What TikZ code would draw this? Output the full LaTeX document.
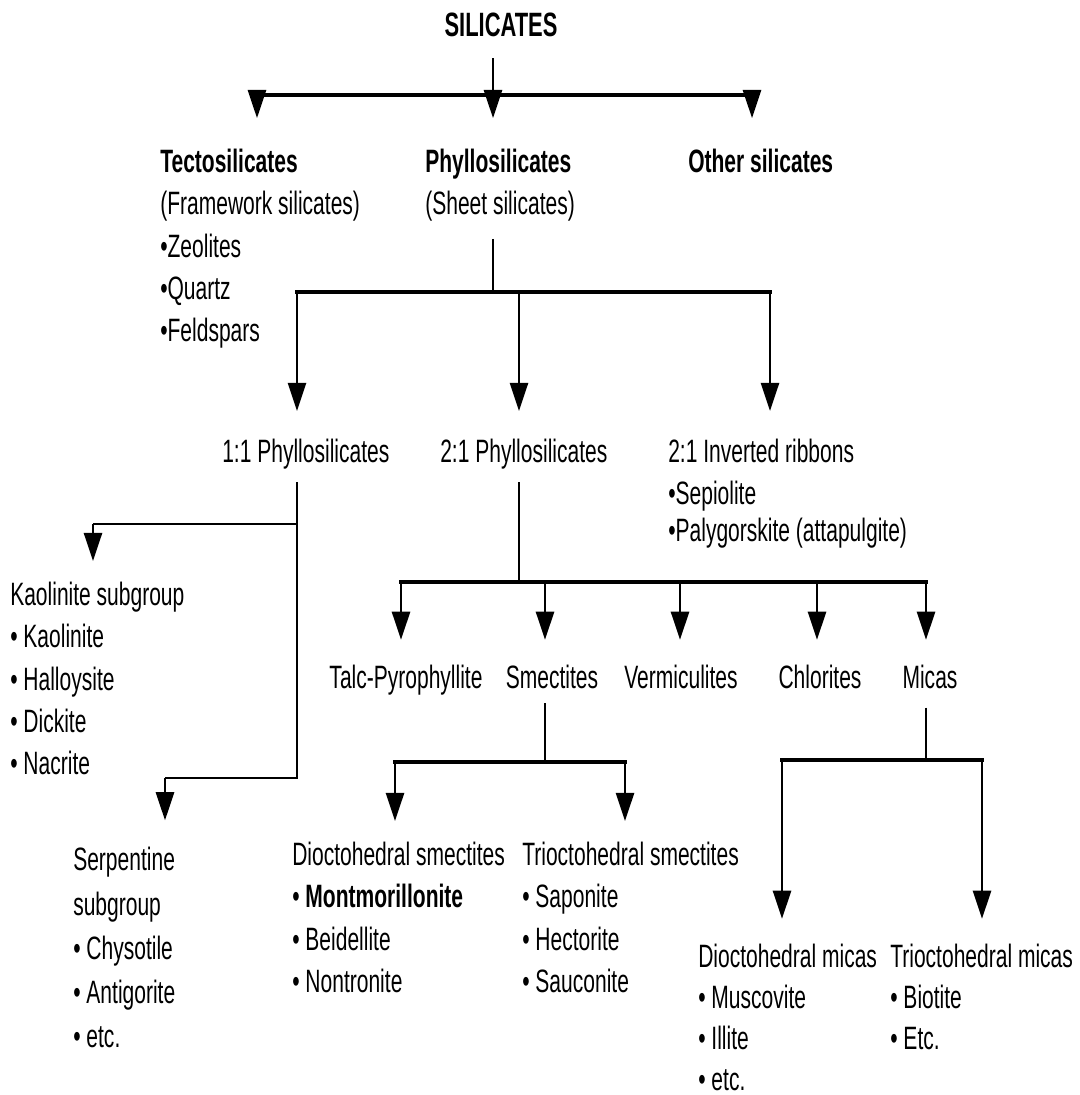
\documentclass[tikz,border=0pt]{standalone}
\usepackage{fontspec}
\setmainfont[FakeStretch=0.65]{Liberation Sans}
\usetikzlibrary{arrows.meta}
\tikzset{lbl/.style={font=\fontsize{23}{30}\selectfont, inner sep=0pt, anchor=north west, align=left},
 head/.style={font=\fontsize{24}{30}\selectfont\bfseries, inner sep=0pt},
 stem/.style={line width=1.4pt},
 bar/.style={line width=2.6pt, line cap=rect},
 arr/.style={line width=1.4pt, -{Triangle[width=13pt,length=20pt]}, shorten >=#1},
 arr/.default=18pt,
 }

\begin{document}
\begin{tikzpicture}[x=0.025cm,y=-0.025cm]
\useasboundingbox (0,0) rectangle (1079,1095);
\node[head] (sil) at (501,25) {SILICATES};
\node[lbl] (tecto) at (160,149) {\textbf{Tectosilicates}\\(Framework silicates)\\•Zeolites\\•Quartz\\•Feldspars};
\node[lbl] (phyllo) at (425,149) {\textbf{Phyllosilicates}\\(Sheet silicates)};
\node[lbl] (other) at (688,149) {\textbf{Other silicates}};
\coordinate (j0) at (493,95);
\coordinate (j0l) at (257,95);
\coordinate (j0r) at (752,95);
\draw[stem, shorten <=15pt] (sil.south -| j0) -- (j0);
\draw[bar] (j0l) -- (j0r);
\draw[arr=22pt] (j0l) -- (j0l |- tecto.north);
\draw[arr=22pt] (j0) -- (j0 |- phyllo.north);
\draw[arr=22pt] (j0r) -- (j0r |- other.north);

\node[lbl] (one1) at (222,439) {1:1 Phyllosilicates};
\node[lbl] (two1) at (440,439) {2:1 Phyllosilicates};
\node[lbl] (ribb) at (668,439) {2:1 Inverted ribbons\\•Sepiolite\\[-4pt]•Palygorskite (attapulgite)};
\coordinate (j1) at (493,292);
\coordinate (j1l) at (297,292);
\coordinate (j1m) at (519,292);
\coordinate (j1r) at (770,292);
\draw[stem, shorten <=12pt] (phyllo.south -| j1) -- (j1);
\draw[bar] (j1l) -- (j1r);
\foreach \c/\n in {j1l/one1, j1m/two1, j1r/ribb}
  \draw[arr=20pt] (\c) -- (\c |- \n.north);

\node[lbl] (kaol) at (10,582) {Kaolinite subgroup\\• Kaolinite\\• Halloysite\\• Dickite\\• Nacrite};
\node[lbl, font=\fontsize{23}{31.5}\selectfont] (serp) at (73,847) {Serpentine\\subgroup\\• Chysotile\\• Antigorite\\• etc.};
\coordinate (k0) at (297,524);
\coordinate (k1) at (93,524);
\coordinate (s0) at (297,778);
\coordinate (s1) at (165,778);
\draw[stem, shorten <=9pt] (one1.south -| k0) -- (s0) -- (s1);
\draw[stem] (k0) -- (k1);
\draw[arr=15pt] (k1) -- (k1 |- kaol.north);
\draw[arr=19pt] (s1) -- (s1 |- serp.north);

\node[lbl, anchor=north] (talc) at (406,665) {Talc-Pyrophyllite};
\node[lbl, anchor=north] (smec) at (552,665) {Smectites};
\node[lbl, anchor=north] (verm) at (681,665) {Vermiculites};
\node[lbl, anchor=north] (chlo) at (820,665) {Chlorites};
\node[lbl, anchor=north] (mica) at (930,665) {Micas};
\coordinate (m0) at (519,582);
\coordinate (m1) at (401,582);
\coordinate (m2) at (545,582);
\coordinate (m3) at (680,582);
\coordinate (m4) at (817,582);
\coordinate (m5) at (926,582);
\draw[stem, shorten <=9pt] (two1.south -| m0) -- (m0);
\draw[bar] (m1) -- (m5);
\foreach \c/\n in {m1/talc, m2/smec, m3/verm, m4/chlo, m5/mica}
  \draw[arr] (\c) -- (\c |- \n.north);

\node[lbl] (diosm) at (292,842) {Dioctohedral smectites\\• \textbf{Montmorillonite}\\• Beidellite\\• Nontronite};
\node[lbl] (triosm) at (522,842) {Trioctohedral smectites\\• Saponite\\• Hectorite\\• Sauconite};
\coordinate (n0) at (545,762);
\coordinate (n1) at (395,762);
\coordinate (n2) at (625,762);
\draw[stem, shorten <=10pt] (smec.south -| n0) -- (n0);
\draw[bar] (n1) -- (n2);
\draw[arr=15pt] (n1) -- (n1 |- diosm.north);
\draw[arr=15pt] (n2) -- (n2 |- triosm.north);

\node[lbl, font=\fontsize{23}{29}\selectfont] (diomi) at (698,944) {Dioctohedral micas\\• Muscovite\\• Illite\\• etc.};
\node[lbl, font=\fontsize{23}{29}\selectfont] (triomi) at (890,944) {Trioctohedral micas\\• Biotite\\• Etc.};
\coordinate (p0) at (926,760);
\coordinate (p1) at (782,760);
\coordinate (p2) at (982,760);
\draw[stem, shorten <=13pt] (mica.south -| p0) -- (p0);
\draw[bar] (p1) -- (p2);
\draw[arr] (p1) -- (p1 |- diomi.north);
\draw[arr] (p2) -- (p2 |- triomi.north);
\end{tikzpicture}
\end{document}
